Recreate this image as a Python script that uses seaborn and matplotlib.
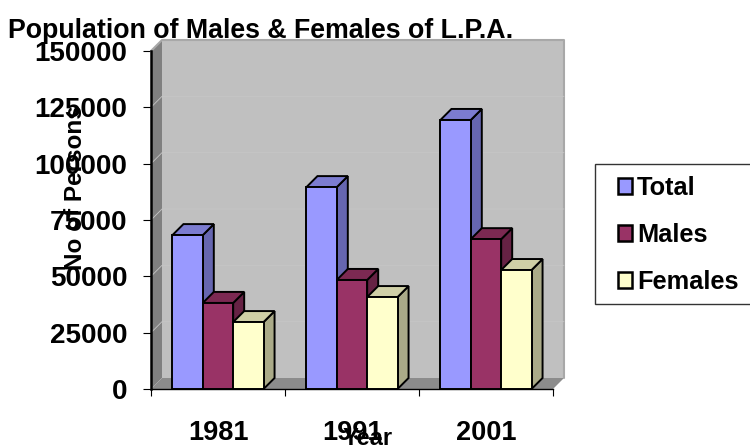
import matplotlib
matplotlib.use('Agg')
import matplotlib.pyplot as plt
import pandas as pd
import seaborn as sns
from matplotlib.patches import Polygon, Rectangle, Patch

years = ['1981', '1991', '2001']
total = [68300, 89600, 119400]
males = [38200, 48400, 66500]
females = [29700, 40800, 52800]
y_ticks = [0, 25000, 50000, 75000, 100000, 125000, 150000]

front_cols = ['#9999FF', '#993366', '#FFFFCC']
side_cols = ['#6666B0', '#662244', '#AAAA88']
top_cols = ['#7C7CD0', '#7C2952', '#CFCFA6']

df = pd.DataFrame({'Year': years, 'Total': total, 'Males': males, 'Females': females})
df = df.melt(id_vars='Year', var_name='Series', value_name='Persons')

W, H = 750, 448
sns.set_style('white')
plt.rcParams['font.family'] = ['Liberation Sans', 'DejaVu Sans']
plt.rcParams['text.color'] = 'black'
plt.rcParams['xtick.color'] = 'black'
plt.rcParams['ytick.color'] = 'black'

fig = plt.figure(figsize=(W / 100, H / 100), dpi=100)
# axes box in pixels: x 151-553, y 51-389
ax = fig.add_axes([151 / W, 1 - 389 / H, 402 / W, 338 / H])
ax.patch.set_visible(False)

sns.barplot(data=df, x='Year', y='Persons', hue='Series', palette=front_cols,
            width=0.68, gap=0, saturation=1, legend=False, ax=ax,
            edgecolor='black', linewidth=1.4, zorder=10)
ax.set_xlim(-0.5, 2.5)
ax.set_ylim(0, 150000)

# 3d depth, 11 px back and up
dx = 11 * 3 / 402
dy = 11 * 150000 / 338
x0, x1 = ax.get_xlim()
y0, y1 = ax.get_ylim()

walls = [
    ([(x0, y0), (x0 + dx, y0 + dy), (x0 + dx, y1 + dy), (x0, y1)], '#808080'),
    ([(x0, y0), (x1, y0), (x1 + dx, y0 + dy), (x0 + dx, y0 + dy)], '#8C8C8C'),
    ([(x0 + dx, y0 + dy), (x1 + dx, y0 + dy), (x1 + dx, y1 + dy), (x0 + dx, y1 + dy)], '#C0C0C0'),
]
for pts, col in walls:
    ax.add_patch(Polygon(pts, closed=True, fc=col, ec='none', clip_on=False, zorder=1))
ax.plot([x0, x0 + dx, x1 + dx, x1 + dx], [y1, y1 + dy, y1 + dy, y0 + dy],
        color='#A8A8A8', lw=1.5, clip_on=False, zorder=2)
for t in y_ticks[1:-1]:
    ax.plot([x0, x0 + dx, x1 + dx], [t, t + dy, t + dy], color='#C6C6C6', lw=0.6,
            clip_on=False, zorder=2)

# side and top faces, taken from the bars seaborn drew
bars = [p for p in ax.patches if isinstance(p, Rectangle) and p.get_height() > 0]
bars = sorted(bars, key=lambda p: p.get_x())
for i, b in enumerate(bars):
    left, right, top = b.get_x(), b.get_x() + b.get_width(), b.get_height()
    n = int(i % 3)
    z = 10 + i * 3
    ax.add_patch(Polygon([(right, 0), (right + dx, dy), (right + dx, top + dy), (right, top)],
                         closed=True, fc=side_cols[n], ec='black', lw=1.4, clip_on=False, zorder=z))
    ax.add_patch(Polygon([(left, top), (right, top), (right + dx, top + dy), (left + dx, top + dy)],
                         closed=True, fc=top_cols[n], ec='black', lw=1.4, clip_on=False, zorder=z + 1))
    b.set_zorder(z + 2)

for s in ['top', 'right']:
    ax.spines[s].set_visible(False)
ax.spines['left'].set(color='black', linewidth=1.8, zorder=50)
ax.spines['bottom'].set(color='black', linewidth=1.0, zorder=5)

ax.set_yticks(y_ticks)
ax.set_xticks([-0.5, 0.5, 1.5, 2.5])
ax.set_xticklabels([])
ax.set_xticks([0, 1, 2], labels=years, minor=True)
ax.tick_params(axis='x', which='major', bottom=True, length=5, width=0.8, color='black')
ax.tick_params(axis='x', which='minor', bottom=False, length=0, pad=22, labelsize=19.5)
ax.tick_params(axis='y', left=True, length=6, width=0.8, color='black', pad=11, labelsize=20)
for lab in ax.get_xticklabels(minor=True) + ax.get_yticklabels():
    lab.set_fontweight('bold')
ax.set_xlabel('')
ax.set_ylabel('')

fig.text(8 / W, 1 - 31 / H, 'Population of Males & Females of L.P.A.', fontsize=19.3,
         fontweight='bold', va='center', ha='left')
fig.text(76 / W, 1 - 188 / H, 'No of Persons', fontsize=17.5, fontweight='bold',
         rotation=90, va='center', ha='center')
fig.text(368 / W, 1 - 438 / H, 'Year', fontsize=17, fontweight='bold', va='center', ha='center')

# legend box runs off the right edge
fig.add_artist(Rectangle((595 / W, 1 - 304 / H), 170 / W, 140 / H, transform=fig.transFigure,
                         fc='white', ec='#333333', lw=1.0))
handles = [Patch(fc=c, ec='black', lw=1.8) for c in front_cols]
fig.legend(handles, ['Total', 'Males', 'Females'], loc='center left',
           bbox_to_anchor=(618 / W, 1 - 235 / H), frameon=False, handlelength=0.55,
           handleheight=0.62, handletextpad=0.2, labelspacing=0.9, borderpad=0, borderaxespad=0,
           prop={'weight': 'bold', 'size': 18.3})

fig.savefig('out.png', dpi=100)
